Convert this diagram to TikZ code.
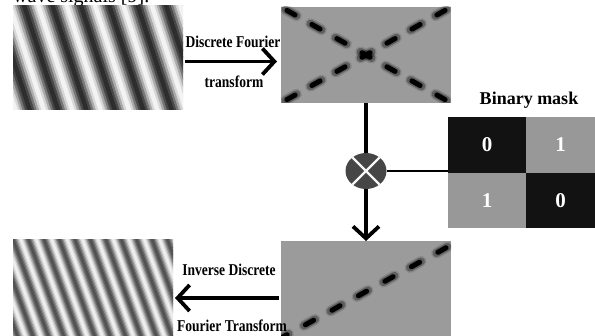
\documentclass[tikz,border=0pt]{standalone}
\usepackage{fontspec}
\setmainfont{Liberation Serif}
\usepackage{graphicx}
\usetikzlibrary{arrows.meta,calc,shapes.geometric}

\definecolor{specgray}{HTML}{9B9B9B}
\definecolor{maskgray}{HTML}{989898}
\definecolor{maskblack}{HTML}{121212}
\definecolor{mulgray}{HTML}{464646}
\definecolor{gdark}{HTML}{2A2A2A}
\definecolor{glight}{HTML}{F6F6F6}
\definecolor{gdarkB}{HTML}{4E4E4E}
\definecolor{glightB}{HTML}{F2F2F2}

% condensed bold captions
\newcommand\narrowtxt[1]{\scalebox{0.82}[1]{#1}}

% one blurred spectral peak: centre (#1,#2), half-extent (#3,#4)
\newcommand\specblob[4]{%
  \draw[line width=11pt, line cap=round, black, opacity=.12] ($(#1,#2)-(#3,#4)$) -- ($(#1,#2)+(#3,#4)$);
  \draw[line width=8pt, line cap=round, black, opacity=.3] ($(#1,#2)-(#3,#4)$) -- ($(#1,#2)+(#3,#4)$);
  \draw[line width=5pt, line cap=round, black] ($(#1,#2)-(0.75*#3,0.75*#4)$) -- ($(#1,#2)+(0.75*#3,0.75*#4)$);
}

% sinusoidal grating: #1 period, #2 first index, #3 last index, #4 dark, #5 light
\newcommand\grating[5]{%
  \foreach \j in {0,...,11} {
    \pgfmathsetmacro\lv{50-50*cos(360*(\j+0.5)/12)}
    \fill[#5!\lv!#4] \foreach \i in {#2,...,#3} { ({\i*#1+\j*#1/12},-130) rectangle ++({#1/12+0.4},260) };
  }
}

\tikzset{
  imgbox/.style={draw=none, inner sep=0pt, outer sep=0pt, rectangle},
  spec/.style={imgbox, fill=specgray, minimum width=170pt, minimum height=96pt},
  cell/.style={imgbox, text=white, font=\fontsize{21}{21}\selectfont\bfseries},
  lbl/.style={font=\fontsize{16.5}{16.5}\selectfont\bfseries, inner sep=0pt},
  flow/.style={line width=3.8pt, -{Straight Barb[length=12pt,width=26pt]}},
  link/.style={line width=3.5pt},
  thinlink/.style={line width=1.6pt},
}

\begin{document}
\begin{tikzpicture}[x=1pt,y=-1pt]
\useasboundingbox (0,0) rectangle (595,336);

% running text above the figure
\node[anchor=base west, font=\fontsize{20}{20}\selectfont, inner sep=0pt] (cap) at (13,3) {wave signals [9].};

% ---------- input signal (grating) ----------
\node[imgbox, minimum width=170pt, minimum height=104pt] (sig) at (98,58) {};
\begin{scope}
  \clip (sig.south west) rectangle (sig.north east);
  \begin{scope}[transform canvas={shift={(sig.center)}, rotate=18}]
    \grating{27}{-7}{7}{gdark}{glight}
  \end{scope}
\end{scope}

% ---------- spectrum ----------
\node[spec] (spec1) at (366,55) {};
\begin{scope}
  \clip (spec1.south west) rectangle (spec1.north east);
  \foreach \k in {-3,-2,-1,1,2,3} {
    \pgfmathsetmacro\bx{366+25*\k}
    \pgfmathsetmacro\byA{55+14.1*\k}
    \pgfmathsetmacro\byB{55-14.1*\k}
    \specblob{\bx}{\byA}{5.5}{3.1}
    \specblob{\bx}{\byB}{5.5}{-3.1}
  }
  \specblob{366}{55}{5.5}{3.1}
  \specblob{366}{55}{5.5}{-3.1}
\end{scope}

% ---------- multiplier ----------
\node[ellipse, fill=mulgray, minimum width=41pt, minimum height=36pt, inner sep=0pt] (mul) at (366,171) {};
\draw[white!93!gray, line width=2.2pt] (mul.45) -- (mul.225);
\draw[white!93!gray, line width=2.2pt] (mul.135) -- (mul.315);

% ---------- binary mask ----------
\node[font=\fontsize{18}{18}\selectfont\bfseries, inner sep=0pt] (masktitle) at (529,100) {Binary mask};
\node[cell, fill=maskblack, minimum width=78pt, minimum height=56pt] (m11) at (487,145) {0};
\node[cell, fill=maskgray,  minimum width=69pt, minimum height=56pt] (m12) at (560.5,145) {1};
\node[cell, fill=maskgray,  minimum width=78pt, minimum height=55pt] (m21) at (487,200.5) {1};
\node[cell, fill=maskblack, minimum width=69pt, minimum height=55pt] (m22) at (560.5,200.5) {0};

% ---------- filtered spectrum ----------
\node[spec] (spec2) at (366,289) {};
\begin{scope}
  \clip (spec2.south west) rectangle (spec2.north east);
  \foreach \k in {0,...,6} {
    \pgfmathsetmacro\bx{442-26.5*\k}
    \pgfmathsetmacro\by{250+14.5*\k}
    \specblob{\bx}{\by}{5.5}{-3.1}
  }
\end{scope}

% ---------- reconstructed signal ----------
\node[imgbox, minimum width=160pt, minimum height=98pt] (rec) at (93,289) {};
\begin{scope}
  \clip (rec.south west) rectangle (rec.north east);
  \begin{scope}[transform canvas={shift={(rec.center)}, rotate=20}]
    \grating{14.5}{-11}{11}{gdarkB}{glightB}
  \end{scope}
\end{scope}

% ---------- connectors ----------
\draw[flow, shorten <=2pt, shorten >=4pt] ([yshift=-3.5pt]sig.east) -- ([yshift=-3.5pt]sig.east -| spec1.west);
\draw[link] (spec1.south) -- (mul.north);
\draw[thinlink] (mul.east) -- (mul.east -| m11.west);
\draw[flow] (mul.south) -- (spec2.north);
\draw[flow, shorten <=2pt, shorten >=2pt] ([yshift=-9pt]rec.east -| spec2.west) -- ([yshift=-9pt]rec.east);

% ---------- captions ----------
\node[lbl] (dft1) at (233,42) {\narrowtxt{Discrete Fourier}};
\node[lbl] (dft2) at (234,82) {\narrowtxt{transform}};
\node[lbl] (idft1) at (229,270) {\narrowtxt{Inverse Discrete}};
\node[lbl] (idft2) at (232,326) {\narrowtxt{Fourier Transform}};
\end{tikzpicture}
\end{document}
